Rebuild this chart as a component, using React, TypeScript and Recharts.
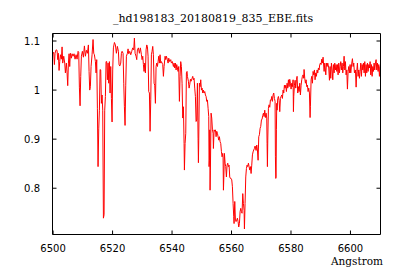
import React from "react";
import { LineChart, Line, XAxis, YAxis } from "recharts";

type Pt = [number, number];

// wavelength (Angstrom), normalised flux
const blueEdge: Pt[] = [
  [6499.66, 1.07], [6499.88, 1.074], [6500.21, 1.077], [6500.44, 1.052], [6500.66, 1.075],
  [6501.0, 1.082], [6501.33, 1.081], [6501.56, 1.062], [6501.78, 1.075], [6502.01, 1.04],
  [6502.23, 1.058], [6502.46, 1.072], [6502.79, 1.063], [6503.02, 1.088], [6503.24, 1.055],
  [6503.58, 1.069], [6503.91, 1.055], [6504.14, 1.035], [6504.47, 1.055], [6504.7, 1.035],
  [6504.92, 1.009], [6505.15, 1.055], [6505.37, 1.074], [6505.59, 1.048], [6505.82, 1.075],
  [6506.15, 1.065], [6506.38, 1.074], [6506.71, 1.069], [6507.05, 1.074], [6507.39, 1.063],
  [6507.72, 1.072], [6508.06, 1.063], [6508.4, 1.079], [6508.62, 1.077], [6508.84, 1.006],
  [6509.07, 0.968], [6509.29, 1.028], [6509.52, 1.069], [6509.85, 1.079], [6510.19, 1.067],
  [6510.53, 1.09], [6510.86, 1.069], [6511.2, 1.081], [6511.54, 1.075], [6511.87, 1.092],
  [6512.1, 1.038], [6512.32, 1.0], [6512.54, 1.007], [6512.77, 1.048], [6513.1, 1.072],
  [6513.44, 1.103], [6513.67, 1.075], [6513.89, 1.072], [6514.23, 1.058], [6514.45, 1.035],
  [6514.67, 1.062], [6514.9, 0.963], [6515.12, 0.844], [6515.35, 0.921], [6515.57, 0.959],
  [6515.8, 1.042], [6516.02, 1.041], [6516.24, 0.973], [6516.47, 0.99], [6516.69, 0.959],
  [6516.92, 0.739], [6517.14, 0.746], [6517.36, 0.959], [6517.59, 0.987], [6517.81, 1.058],
  [6518.04, 1.058], [6518.26, 1.021], [6518.49, 1.055], [6518.71, 1.014], [6518.93, 1.058],
  [6519.16, 0.994], [6519.38, 1.048], [6519.61, 0.983], [6519.83, 0.935], [6520.05, 1.041],
  [6520.28, 1.086], [6520.62, 1.097], [6520.95, 1.092], [6521.29, 1.075], [6521.62, 1.089],
  [6521.96, 1.079], [6522.18, 1.052],
];

const blueShoulder: Pt[] = [
  [6522.41, 1.049], [6522.75, 1.055], [6522.97, 1.075], [6523.2, 1.079], [6523.53, 1.075],
  [6523.76, 1.014], [6523.98, 0.966], [6524.2, 0.928], [6524.43, 1.01], [6524.65, 1.069],
  [6524.99, 1.075], [6525.21, 1.084], [6525.44, 1.074], [6525.77, 1.079], [6526.11, 1.072],
  [6526.45, 1.079], [6526.78, 1.086], [6527.12, 1.082], [6527.34, 1.106], [6527.57, 1.075],
  [6527.9, 1.069], [6528.13, 1.062], [6528.35, 1.082], [6528.69, 1.086], [6529.02, 1.075],
  [6529.36, 1.086], [6529.7, 1.072], [6529.92, 1.062], [6530.15, 1.069], [6530.37, 1.052],
  [6530.59, 1.038], [6530.82, 1.055], [6531.04, 1.035], [6531.27, 1.082], [6531.49, 1.092],
  [6531.71, 1.089], [6531.94, 1.069], [6532.16, 0.997], [6532.39, 0.994], [6532.61, 0.916],
  [6532.84, 0.98], [6533.06, 1.072], [6533.28, 1.079], [6533.51, 1.089], [6533.73, 1.072],
  [6533.96, 1.014], [6534.18, 1.01], [6534.41, 0.973], [6534.63, 1.048], [6534.85, 1.055],
  [6535.08, 1.048], [6535.3, 1.058], [6535.53, 1.069], [6535.75, 1.055], [6535.97, 1.072],
  [6536.2, 1.055], [6536.42, 1.058], [6536.65, 1.055], [6536.87, 1.052], [6537.1, 1.028],
  [6537.32, 1.048], [6537.66, 1.069], [6537.88, 1.062], [6538.1, 1.069], [6538.44, 1.062],
  [6538.67, 1.055], [6538.89, 1.065], [6539.23, 1.058], [6539.56, 1.062], [6539.79, 1.055],
  [6540.12, 1.058], [6540.46, 1.048], [6540.68, 1.055], [6540.91, 1.045], [6541.13, 1.055],
  [6541.36, 1.041], [6541.58, 1.052], [6541.8, 1.045], [6542.03, 1.038], [6542.25, 1.048],
  [6542.48, 0.977], [6542.7, 1.028], [6542.92, 1.058], [6543.15, 1.048], [6543.37, 1.014],
  [6543.6, 0.943], [6543.82, 0.966], [6544.05, 0.891], [6544.16, 0.837], [6544.38, 0.891],
  [6544.61, 0.912], [6544.83, 1.035], [6545.05, 1.038],
];

const halphaCore: Pt[] = [
  [6545.17, 1.028], [6545.5, 1.018], [6545.73, 1.004], [6545.95, 1.011], [6546.18, 1.022],
  [6546.4, 1.018], [6546.74, 1.024], [6546.96, 1.028], [6547.19, 1.021], [6547.41, 1.024],
  [6547.63, 1.004], [6547.86, 0.987], [6548.08, 0.936], [6548.31, 0.939], [6548.53, 1.014],
  [6548.76, 0.902], [6548.87, 0.852], [6548.98, 0.898], [6549.2, 1.014], [6549.43, 1.007],
  [6549.65, 1.021], [6549.88, 1.0], [6550.1, 1.004], [6550.33, 0.994], [6550.55, 1.0],
  [6550.77, 0.994], [6551.0, 0.997], [6551.22, 0.99], [6551.45, 0.987], [6551.67, 0.977],
  [6551.89, 0.98], [6552.12, 0.963], [6552.34, 0.946], [6552.45, 0.844], [6552.57, 0.857],
  [6552.68, 0.919], [6552.79, 0.796], [6552.9, 0.837], [6553.13, 0.953], [6553.35, 0.943],
  [6553.58, 0.919], [6553.8, 0.912], [6553.91, 0.881], [6554.14, 0.919], [6554.36, 0.916],
  [6554.59, 0.919], [6554.81, 0.905], [6555.03, 0.916], [6555.26, 0.912], [6555.48, 0.905],
  [6555.71, 0.898], [6555.93, 0.905], [6556.15, 0.895], [6556.38, 0.891], [6556.6, 0.875],
  [6556.83, 0.864], [6557.05, 0.871], [6557.16, 0.864], [6557.28, 0.796], [6557.39, 0.817],
  [6557.61, 0.871], [6557.84, 0.851], [6558.06, 0.844], [6558.28, 0.823], [6558.51, 0.847],
  [6558.73, 0.851], [6558.96, 0.844], [6559.18, 0.847], [6559.4, 0.823], [6559.63, 0.82],
  [6559.85, 0.82], [6560.08, 0.817], [6560.3, 0.803], [6560.53, 0.769], [6560.75, 0.742],
  [6560.86, 0.728], [6561.09, 0.773], [6561.31, 0.735], [6561.53, 0.732], [6561.76, 0.735],
  [6561.98, 0.739], [6562.21, 0.732], [6562.43, 0.721], [6562.66, 0.728], [6562.88, 0.752],
  [6563.1, 0.759], [6563.33, 0.752], [6563.55, 0.749], [6563.78, 0.789], [6564.0, 0.769],
  [6564.23, 0.755], [6564.34, 0.717], [6564.56, 0.769], [6564.79, 0.823], [6565.01, 0.84],
  [6565.23, 0.847], [6565.46, 0.844], [6565.68, 0.851], [6565.91, 0.844], [6566.13, 0.837],
  [6566.36, 0.844], [6566.58, 0.83], [6566.8, 0.847], [6567.03, 0.868], [6567.25, 0.874],
  [6567.48, 0.878], [6567.7, 0.881], [6567.92, 0.886],
];

const redShoulder: Pt[] = [
  [6568.26, 0.877], [6568.49, 0.888], [6568.71, 0.878], [6568.94, 0.857], [6569.16, 0.905],
  [6569.38, 0.909], [6569.61, 0.922], [6569.83, 0.926], [6570.06, 0.939], [6570.28, 0.941],
  [6570.5, 0.948], [6570.73, 0.953], [6570.95, 0.946], [6571.18, 0.959], [6571.4, 0.944],
  [6571.63, 0.953], [6571.85, 0.943], [6571.96, 0.891], [6572.07, 0.844], [6572.19, 0.898],
  [6572.41, 0.963], [6572.63, 0.97], [6572.86, 0.965], [6573.08, 0.98], [6573.31, 0.979],
  [6573.53, 0.987], [6573.76, 0.977], [6573.98, 0.99], [6574.2, 0.994], [6574.43, 0.983],
  [6574.65, 0.977], [6574.76, 0.864], [6574.88, 0.82], [6574.99, 0.823], [6575.1, 0.919],
  [6575.21, 0.973], [6575.32, 0.959], [6575.55, 0.983], [6575.77, 0.987], [6576.0, 0.979],
  [6576.22, 0.956], [6576.45, 0.983], [6576.67, 0.987], [6576.89, 0.99], [6577.12, 0.983],
  [6577.34, 1.0], [6577.57, 0.994], [6577.79, 1.01], [6578.02, 1.004], [6578.24, 1.01],
  [6578.46, 0.997], [6578.69, 1.014], [6578.91, 1.004], [6579.14, 1.021], [6579.36, 1.007],
  [6579.58, 1.022], [6579.81, 1.014], [6580.03, 1.002], [6580.26, 1.014], [6580.48, 1.007],
  [6580.71, 1.021], [6580.82, 0.956], [6580.93, 0.987], [6581.15, 1.01], [6581.38, 1.02],
  [6581.6, 1.004], [6581.83, 1.021], [6582.05, 1.028], [6582.27, 0.994], [6582.5, 1.007],
  [6582.72, 0.997], [6582.95, 1.014], [6583.17, 0.99], [6583.4, 1.01], [6583.62, 1.021],
  [6583.84, 1.028], [6584.07, 1.031], [6584.29, 1.024], [6584.4, 1.042], [6584.63, 1.024],
  [6584.85, 1.014], [6585.08, 1.021], [6585.3, 1.007], [6585.53, 1.01], [6585.75, 0.997],
  [6585.97, 1.004], [6586.2, 0.994], [6586.42, 0.944], [6586.53, 0.966], [6586.76, 1.021],
  [6586.98, 1.028], [6587.21, 1.014], [6587.43, 1.038], [6587.66, 1.031], [6587.88, 1.041],
  [6588.1, 1.021], [6588.33, 1.035], [6588.55, 1.028], [6588.78, 1.041], [6589.0, 1.035],
  [6589.22, 1.045], [6589.45, 1.041], [6589.67, 1.052], [6589.9, 1.055], [6590.12, 1.052],
  [6590.35, 1.063], [6590.57, 1.055], [6590.79, 1.067],
];

const redEdge: Pt[] = [
  [6591.14, 1.038], [6591.36, 1.055], [6591.7, 1.031], [6591.92, 1.055], [6592.14, 1.048],
  [6592.37, 1.055], [6592.7, 1.045], [6592.93, 1.02], [6593.15, 1.048], [6593.38, 1.024],
  [6593.6, 1.055], [6593.83, 1.041], [6594.05, 1.021], [6594.27, 1.052], [6594.5, 1.035],
  [6594.72, 1.055], [6594.95, 1.041], [6595.17, 1.052], [6595.4, 1.038], [6595.62, 1.052],
  [6595.84, 1.031], [6596.07, 1.055], [6596.29, 1.035], [6596.52, 1.048], [6596.74, 1.058],
  [6596.96, 1.041], [6597.19, 1.055], [6597.41, 1.035], [6597.64, 1.048], [6597.86, 1.069],
  [6598.09, 1.041], [6598.31, 1.058], [6598.53, 1.031], [6598.76, 1.041], [6598.98, 1.002],
  [6599.21, 1.038], [6599.43, 1.048], [6599.65, 1.035], [6599.88, 1.052], [6600.1, 1.035],
  [6600.44, 1.055], [6600.66, 1.064], [6600.89, 1.048], [6601.11, 1.055], [6601.34, 1.035],
  [6601.67, 1.041], [6601.9, 1.006], [6602.12, 1.038], [6602.34, 1.055], [6602.57, 1.028],
  [6602.79, 1.041], [6603.02, 1.024], [6603.24, 1.038], [6603.47, 1.055], [6603.69, 1.028],
  [6603.91, 1.052], [6604.14, 1.041], [6604.36, 1.055], [6604.59, 1.035], [6604.81, 1.058],
  [6605.04, 1.028], [6605.26, 1.052], [6605.48, 1.035], [6605.71, 1.055], [6605.93, 1.038],
  [6606.16, 1.052], [6606.38, 1.045], [6606.61, 1.058], [6606.83, 1.031], [6607.05, 1.052],
  [6607.28, 1.028], [6607.5, 1.048], [6607.73, 1.038], [6607.95, 1.055], [6608.17, 1.041],
  [6608.4, 1.055], [6608.62, 1.062], [6608.85, 1.041], [6609.07, 1.055], [6609.3, 1.038],
  [6609.52, 1.052], [6609.74, 1.028], [6609.97, 1.048], [6610.1, 1.035],
];

const xTicks = [6500, 6520, 6540, 6560, 6580, 6600];
const yTicks = [0.8, 0.9, 1, 1.1];
const title = "_hd198183_20180819_835_EBE.fits";
const xLabel = "Angstrom";

const data = [...blueEdge, ...blueShoulder, ...halphaCore, ...redShoulder, ...redEdge].map(
  ([wl, flux]) => ({ wl, flux })
);

const xDomain: [number, number] = [6499.8, 6610.1];
const yDomain: [number, number] = [0.7057, 1.1153];

const tickFont = { fill: "#000", fontSize: 10, fontFamily: "DejaVu Sans" };
const blank = () => "";

export default function App() {
  return (
    <div style={{ position: "absolute", left: 0, top: 0, width: 400, height: 280, background: "#fff" }}>
      <LineChart
        width={400}
        height={280}
        data={data}
        margin={{ top: 32.5, right: 18.5, bottom: 0, left: 0 }}
      >
        <XAxis
          xAxisId="b"
          dataKey="wl"
          type="number"
          domain={xDomain}
          allowDataOverflow
          ticks={xTicks}
          interval={0}
          height={45.5}
          tickSize={-4}
          tickMargin={14}
          stroke="#000"
          tick={tickFont}
        />
        <XAxis
          xAxisId="t"
          dataKey="wl"
          type="number"
          orientation="top"
          domain={xDomain}
          allowDataOverflow
          ticks={xTicks}
          interval={0}
          height={1}
          tickSize={-4}
          tickFormatter={blank}
          stroke="#000"
        />
        <YAxis
          yAxisId="l"
          type="number"
          domain={yDomain}
          allowDataOverflow
          ticks={yTicks}
          interval={0}
          width={52.5}
          tickSize={-4}
          tickMargin={16.5}
          stroke="#000"
          tick={tickFont}
        />
        <YAxis
          yAxisId="r"
          type="number"
          orientation="right"
          domain={yDomain}
          allowDataOverflow
          ticks={yTicks}
          interval={0}
          width={1}
          tickSize={-4}
          tickFormatter={blank}
          stroke="#000"
        />
        <Line
          xAxisId="b"
          yAxisId="l"
          type="linear"
          dataKey="flux"
          stroke="#ff0000"
          strokeWidth={1}
          dot={false}
          isAnimationActive={false}
        />
      </LineChart>
      <svg
        width={400}
        height={280}
        style={{ position: "absolute", left: 0, top: 0, pointerEvents: "none" }}
      >
        <text x={213} y={22} textAnchor="middle" fontFamily="DejaVu Serif" fontSize={11} fill="#000">
          {title}
        </text>
        <text x={383} y={265} textAnchor="end" fontFamily="DejaVu Serif" fontSize={10.5} fill="#000">
          {xLabel}
        </text>
      </svg>
    </div>
  );
}
